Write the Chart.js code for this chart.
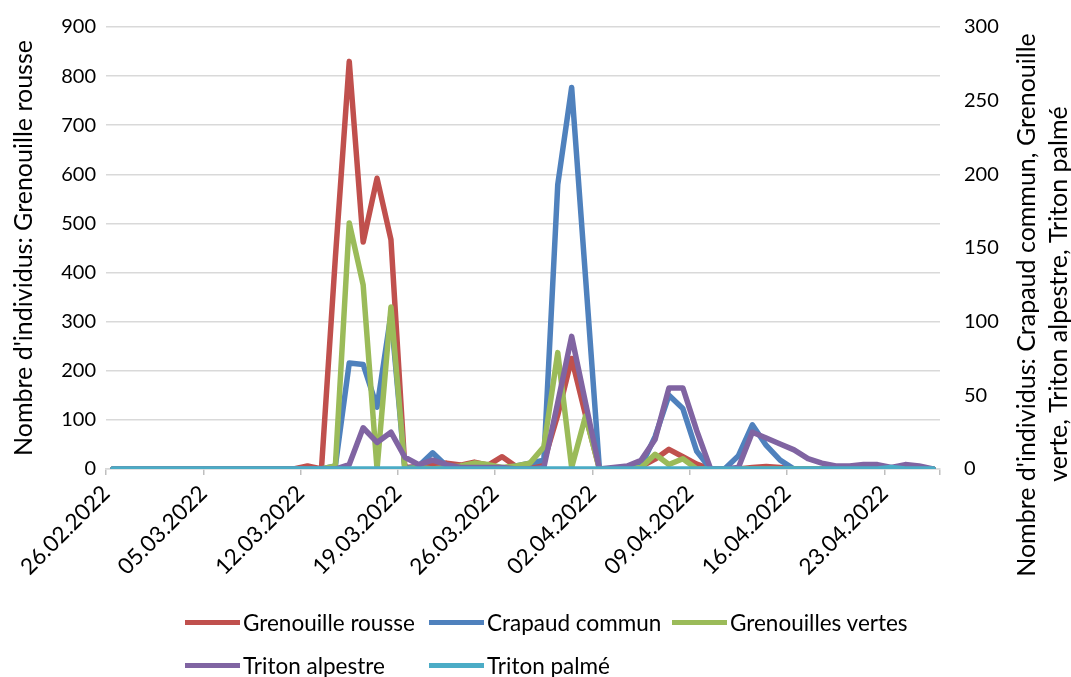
<!DOCTYPE html>
<html>
<head>
<meta charset="utf-8">
<script src="https://cdn.jsdelivr.net/npm/chart.js@4/dist/chart.umd.min.js"></script>
<style>
    body { margin: 0; background: #fff; }
    #wrap { position: relative; width: 1071px; height: 677px; }
    #legend { position: absolute; left: 185px; top: 607px; font-family: Lato, sans-serif; font-size: 22.5px; color: #000;
              display: grid; grid-template-columns: 244px 243px auto; row-gap: 13px; }
    .item { display: flex; align-items: center; height: 30px; white-space: nowrap; }
    .item span.l { display: inline-block; width: 55px; height: 5px; margin-right: 3px; }
</style>
</head>
<body>
<div id="wrap">
    <canvas id="chart" width="1071" height="677"></canvas>
    <div id="legend"></div>
</div>
<script>
    // daily counts, 26.02.2022 -> 26.04.2022
    var dayCount = 60;
    var tickLabels = ['26.02.2022', '05.03.2022', '12.03.2022', '19.03.2022', '26.03.2022',
                      '02.04.2022', '09.04.2022', '16.04.2022', '23.04.2022', ''];

    var grenouilleRousse = [0,0,0,0,0,0,0,0,0,0, 0,0,0,0,6,0,430,830,462,592,
                            467,3,5,10,12,8,14,8,25,5, 5,15,110,225,110,0,0,0,5,20,
                            40,25,10,0,0,0,3,5,3,0, 0,0,0,0,0,0,0,0,0,0];
    var crapaudCommun = [0,0,0,0,0,0,0,0,0,0, 0,0,0,0,0,0,2,72,71,42,
                         105,0,2,11,2,0,0,1,0,2, 4,6,193,259,130,0,0,0,2,22,
                         50,41,12,0,0,9,30,16,6,0, 0,0,0,0,0,0,0,0,0,0];
    var grenouillesVertes = [0,0,0,0,0,0,0,0,0,0, 0,0,0,0,0,0,2,167,125,0,
                             110,0,1,0,1,2,4,3,1,2, 4,15,79,1,36,0,0,0,1,10,
                             3,7,0,0,0,0,0,0,0,0, 0,0,0,0,0,0,0,0,0,0];
    var tritonAlpestre = [0,0,0,0,0,0,0,0,0,0, 0,0,0,0,0,0,0,3,28,18,
                          25,8,3,6,3,1,1,1,1,0, 0,1,45,90,45,0,1,2,6,20,
                          55,55,26,0,0,1,25,21,17,13, 7,4,2,2,3,3,1,3,2,0];
    var tritonPalme = [0,0,0,0,0,0,0,0,0,0, 0,0,0,0,0,0,0,0,0,0,
                       0,0,0,0,0,0,0,0,0,0, 0,0,0,0,0,0,0,0,0,0,
                       0,0,0,0,0,0,0,0,0,0, 0,0,0,0,0,0,1,0,0,0];

    var seriesNames = ['Grenouille rousse', 'Crapaud commun', 'Grenouilles vertes', 'Triton alpestre', 'Triton palmé'];
    var seriesColors = ['#C0504D', '#4F81BD', '#9BBB59', '#8064A2', '#4BACC6'];

    var fontFamily = 'Lato, sans-serif';

    function toPoints(arr) {
        return arr.map(function (v, i) { return { x: i, y: v }; });
    }

    var allSeries = [grenouilleRousse, crapaudCommun, grenouillesVertes, tritonAlpestre, tritonPalme];
    var datasets = allSeries.map(function (arr, k) {
        return {
            label: seriesNames[k],
            data: toPoints(arr),
            borderColor: seriesColors[k],
            backgroundColor: seriesColors[k],
            borderWidth: 5.5,
            pointRadius: 0,
            tension: 0,
            borderJoinStyle: 'round',
            borderCapStyle: 'round',
            yAxisID: k === 0 ? 'y' : 'y1',
            order: 5 - k
        };
    });

    // right axis title reads bottom-to-top in the original
    var rightTitle = {
        id: 'rightTitle',
        afterDraw: function (chart) {
            var ctx = chart.ctx;
            ctx.save();
            ctx.fillStyle = '#000';
            ctx.font = '25px ' + fontFamily;
            ctx.textAlign = 'center';
            ctx.textBaseline = 'middle';
            var lines = ["Nombre d'individus: Crapaud commun, Grenouille", 'verte, Triton alpestre, Triton palmé'];
            var xs = [1027, 1059];
            var ys = [305, 294];
            for (var i = 0; i < lines.length; i++) {
                ctx.save();
                ctx.translate(xs[i], ys[i]);
                ctx.rotate(-Math.PI / 2);
                ctx.fillText(lines[i], 0, 0);
                ctx.restore();
            }
            ctx.restore();
        }
    };

    var ctx = document.getElementById('chart').getContext('2d');
    var chart = new Chart(ctx, {
        type: 'line',
        data: { datasets: datasets },
        plugins: [rightTitle],
        options: {
            responsive: false,
            animation: false,
            devicePixelRatio: 1,
            layout: { padding: { top: 27, bottom: 88, left: 0, right: 0 } },
            plugins: { legend: { display: false }, tooltip: { enabled: false } },
            scales: {
                x: {
                    type: 'linear',
                    min: -0.5,
                    max: dayCount - 0.5,
                    afterBuildTicks: function (scale) {
                        var t = [];
                        for (var v = -0.5; v < dayCount; v += 7) t.push({ value: v });
                        t.push({ value: dayCount - 0.5 });
                        scale.ticks = t;
                    },
                    afterFit: function (scale) { scale.height = 120; },
                    grid: { drawOnChartArea: false, drawTicks: true, tickLength: 6, color: '#bfbfbf', lineWidth: 1.5 },
                    border: { display: true, color: '#d9d9d9', width: 1.5 },
                    ticks: {
                        autoSkip: false,
                        minRotation: 45,
                        maxRotation: 45,
                        padding: 5,
                        color: '#000',
                        font: { family: fontFamily, size: 22.5 },
                        callback: function (value, index) { return tickLabels[index]; }
                    }
                },
                y: {
                    position: 'left',
                    min: 0,
                    max: 900,
                    afterFit: function (scale) { scale.width = 106; },
                    grid: { color: '#d9d9d9', lineWidth: 1.5, drawTicks: false },
                    border: { display: false },
                    ticks: { stepSize: 100, padding: 10, color: '#000', font: { family: fontFamily, size: 20 } },
                    title: {
                        display: true,
                        text: "Nombre d'individus: Grenouille rousse",
                        color: '#000',
                        font: { family: fontFamily, size: 25 },
                        padding: { top: 9, bottom: 0 }
                    }
                },
                y1: {
                    position: 'right',
                    min: 0,
                    max: 300,
                    afterFit: function (scale) { scale.width = 131; },
                    // invisible tick marks push the labels out without adding top padding
                    grid: { display: true, drawOnChartArea: false, drawTicks: true, tickLength: 14, color: 'rgba(0,0,0,0)' },
                    border: { display: false },
                    ticks: { stepSize: 50, padding: 10, color: '#000', font: { family: fontFamily, size: 20 } }
                }
            }
        }
    });

    // legend laid out on a grid like the original
    var legendEl = document.getElementById('legend');
    seriesNames.forEach(function (name, k) {
        var item = document.createElement('div');
        item.className = 'item';
        item.innerHTML = '<span class="l" style="background:' + seriesColors[k] + '"></span>' + name;
        legendEl.appendChild(item);
    });
</script>
</body>
</html>
